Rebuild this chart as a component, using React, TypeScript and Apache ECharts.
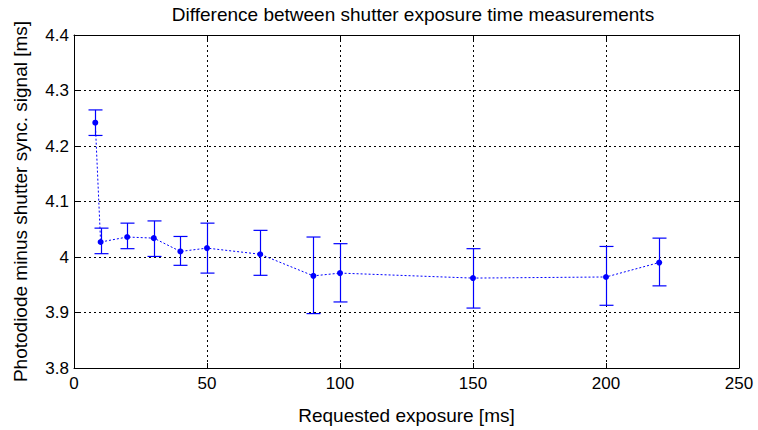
import React, { useEffect, useRef } from "react";
import * as echarts from "echarts";

const exposures = [8, 10, 20, 30, 40, 50, 70, 90, 100, 150, 200, 220];
const means = [4.242, 4.027, 4.036, 4.034, 4.010, 4.016, 4.005, 3.966, 3.971, 3.962, 3.964, 3.990];
const upper = [4.265, 4.052, 4.061, 4.065, 4.037, 4.061, 4.048, 4.036, 4.024, 4.015, 4.019, 4.034];
const lower = [4.219, 4.006, 4.015, 4.001, 3.985, 3.971, 3.967, 3.898, 3.919, 3.908, 3.913, 3.948];

const titleText = "Difference between shutter exposure time measurements";
const xName = "Requested exposure [ms]";
const yName = "Photodiode minus shutter sync. signal [ms]";

const BLUE = "#0000ff";
const FONT = "Liberation Sans, Arial, sans-serif";
const FS = 17;
const FS_NAME = 19;

export default function App() {
  const ref = useRef<HTMLDivElement>(null);
  useEffect(() => {
    if (!ref.current) return;
    const chart = echarts.init(ref.current, null, { renderer: "svg" });
    const lineData = exposures.map((x, i) => [x, means[i]]);
    const errData = exposures.map((x, i) => [x, lower[i], upper[i]]);
    const gridLine = { show: true, lineStyle: { color: "#000", type: [2, 3] as any, width: 1 } };
    const axisLine = { show: true, onZero: false, lineStyle: { color: "#000", width: 1 } };
    const axisTick = { show: true, inside: true, length: 5, lineStyle: { color: "#000" } };
    const labelStyle = { color: "#000", fontSize: FS, fontFamily: FONT };
    chart.setOption({
      animation: false,
      backgroundColor: "#fff",
      title: {
        text: titleText,
        left: 408,
        textAlign: "center",
        top: 0,
        textStyle: { fontSize: FS_NAME, fontWeight: "normal", color: "#000", fontFamily: FONT },
      },
      grid: { left: 74, top: 35, right: 19, bottom: 57, containLabel: false },
      xAxis: [
        {
          type: "value",
          min: 0,
          max: 250,
          interval: 50,
          position: "bottom",
          name: xName,
          nameLocation: "middle",
          nameGap: 38,
          nameTextStyle: { fontSize: FS_NAME, color: "#000", fontFamily: FONT },
          axisLine,
          axisTick,
          axisLabel: { ...labelStyle, margin: 7 },
          splitLine: gridLine,
        },
        {
          type: "value",
          min: 0,
          max: 250,
          interval: 50,
          position: "top",
          axisLine,
          axisTick,
          axisLabel: { show: false },
          splitLine: { show: false },
        },
      ],
      yAxis: [
        {
          type: "value",
          min: 3.8,
          max: 4.4,
          interval: 0.1,
          position: "left",
          name: yName,
          nameLocation: "middle",
          nameGap: 44,
          nameRotate: 90,
          nameTextStyle: { fontSize: FS_NAME, color: "#000", fontFamily: FONT },
          axisLine,
          axisTick,
          axisLabel: {
            ...labelStyle,
            margin: 5,
            formatter: (v: number) => String(parseFloat(v.toFixed(1))),
          },
          splitLine: gridLine,
        },
        {
          type: "value",
          min: 3.8,
          max: 4.4,
          interval: 0.1,
          position: "right",
          axisLine,
          axisTick,
          axisLabel: { show: false },
          splitLine: { show: false },
        },
      ],
      series: [
        {
          type: "custom",
          xAxisIndex: 0,
          yAxisIndex: 0,
          data: errData,
          z: 2,
          silent: true,
          itemStyle: { color: BLUE, borderColor: BLUE },
          renderItem: (params: any, api: any) => {
            const x = api.value(0);
            const lo = api.coord([x, api.value(1)]);
            const hi = api.coord([x, api.value(2)]);
            const cx = Math.round(lo[0]) + 0.5;
            const w = 7;
            const mk = () => ({ stroke: "rgb(0,0,255)", fill: null, lineWidth: 1.2, opacity: 1 });
            return {
              type: "group",
              children: [
                { type: "polyline", shape: { points: [[cx, lo[1]], [cx, hi[1]]] }, style: mk() },
                { type: "polyline", shape: { points: [[cx - w, lo[1]], [cx + w, lo[1]]] }, style: mk() },
                { type: "polyline", shape: { points: [[cx - w, hi[1]], [cx + w, hi[1]]] }, style: mk() },
              ],
            };
          },
        },
        {
          type: "line",
          xAxisIndex: 0,
          yAxisIndex: 0,
          data: lineData,
          z: 3,
          symbol: "circle",
          symbolSize: 6,
          itemStyle: { color: BLUE },
          lineStyle: { color: BLUE, width: 1, type: [2, 2] as any },
        },
      ],
    });
    return () => chart.dispose();
  }, []);
  return <div ref={ref} style={{ width: 758, height: 430, position: "absolute", left: 0, top: 0 }} />;
}
